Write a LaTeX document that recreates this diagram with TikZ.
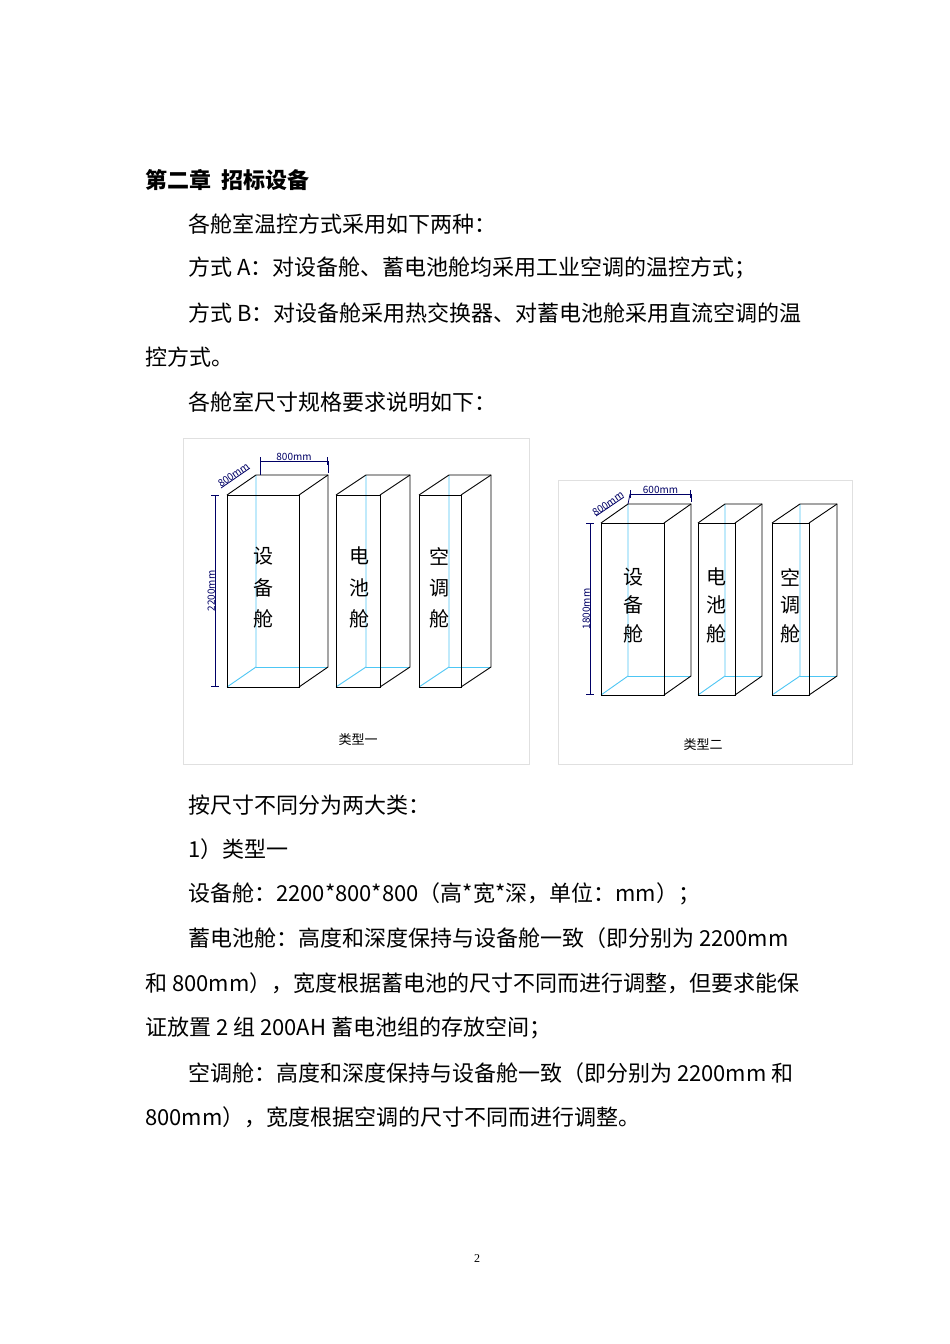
\documentclass[tikz,border=0pt]{standalone}
\usepackage{fontspec}
\setmainfont{Noto Sans CJK SC}
\newfontfamily\serifnum{Liberation Serif}
\newcommand{\mycab}[7]{%
 \coordinate (#1a) at (#2,#4); \coordinate (#1b) at (#3,#4);
 \coordinate (#1c) at (#3,#5); \coordinate (#1d) at (#2,#5);
 \draw[cyanl] (#1d) -- ++(#6,#7) coordinate (#1e) -- ++(0,#4-#5) coordinate (#1f);
 \draw[cyanl] (#1e) -- ++(#3-#2,0);
 \draw[boxl] (#1a) -- (#1b) -- (#1c) -- (#1d) -- cycle;
 \draw[boxl] (#1a) -- ++(#6,#7) -- ++(#3-#2,0) coordinate (#1g) -- ++(0,#5-#4) -- (#1c);
 \draw[boxl] (#1b) -- (#1g);
}
\begin{document}
\begin{tikzpicture}[x=1pt,y=-1pt,
 body/.style={anchor=west,inner sep=0,font=\fontsize{22}{22}\selectfont},
 boxl/.style={black,line width=0.9pt},
 cyanl/.style={cyan!70!white,line width=0.9pt},
 diml/.style={blue!40!black,line width=0.8pt},
 dimt/.style={blue!40!black,font=\fontsize{10}{10}\selectfont,inner sep=0.5pt},
 ch/.style={font=\fontsize{20}{20}\selectfont,inner sep=0},
 captext/.style={font=\fontsize{13}{13}\selectfont,inner sep=0},
 frame/.style={draw=black!12,line width=0.8pt}]
\useasboundingbox[fill=white] (0,0) rectangle (950,1344);
\node[body,font=\fontsize{22}{22}\selectfont\bfseries] (h) at (145,180) {第二章\ \ 招标设备};
\node[body] (l1) at (188,224) {各舱室温控方式采用如下两种：};
\node[body] (l2) at (188,268) {方式 A：对设备舱、蓄电池舱均采用工业空调的温控方式；};
\node[body] (l3) at (188,313) {方式 B：对设备舱采用热交换器、对蓄电池舱采用直流空调的温};
\node[body] (l4) at (145,357) {控方式。};
\node[body] (l5) at (188,402) {各舱室尺寸规格要求说明如下：};
% figure 1
\draw[frame] (183,438) rectangle (529,764);
\mycab{p}{227}{299}{495}{687}{29}{-20}
\mycab{q}{336}{380}{495}{687}{30}{-20}
\mycab{r}{419}{461}{495}{687}{30}{-20}
\node[ch] (p1) at (263,556) {设}; \node[ch] (p2) at (263,588) {备}; \node[ch] (p3) at (263,619) {舱};
\node[ch] (q1) at (359,556) {电}; \node[ch] (q2) at (359,588) {池}; \node[ch] (q3) at (359,619) {舱};
\node[ch] (r1) at (439,556) {空}; \node[ch] (r2) at (439,588) {调}; \node[ch] (r3) at (439,619) {舱};
\coordinate (d1a) at (260,461); \coordinate (d1b) at (328,461);
\draw[diml,|-|] (d1a) -- node[dimt,above=-1pt]{800mm} (d1b);
\draw[diml] (d1a) -- (260,475); \draw[diml] (d1b) -- (328,473);
\coordinate (d2a) at (215,495); \coordinate (d2b) at (215,687);
\draw[diml,|-|] (d2a) -- node[dimt,rotate=90,above=-1pt]{2200mm} (d2b);
\coordinate (d3a) at (221,488); \coordinate (d3b) at (250,468);
\draw[diml] (d3a) -- node[dimt,sloped,above=-1pt]{800mm} (d3b);
\node[captext] (c1) at (358,740) {类型一};
% figure 2
\draw[frame] (558,480) rectangle (852,764);
\mycab{s}{601}{664}{523}{695}{27}{-19}
\mycab{t}{698}{735}{523}{695}{27}{-19}
\mycab{u}{772}{809}{523}{695}{28}{-19}
\node[ch] (s1) at (633,577) {设}; \node[ch] (s2) at (633,605) {备}; \node[ch] (s3) at (633,634) {舱};
\node[ch] (t1) at (716,577) {电}; \node[ch] (t2) at (716,605) {池}; \node[ch] (t3) at (716,634) {舱};
\node[ch] (u1) at (790,577) {空}; \node[ch] (u2) at (790,605) {调}; \node[ch] (u3) at (790,634) {舱};
\coordinate (e1a) at (630,494); \coordinate (e1b) at (691,494);
\draw[diml,|-|] (e1a) -- node[dimt,above=-1pt]{600mm} (e1b);
\draw[diml] (e1a) -- (628,504); \draw[diml] (e1b) -- (691,502);
\coordinate (e2a) at (590,523); \coordinate (e2b) at (590,695);
\draw[diml,|-|] (e2a) -- node[dimt,rotate=90,above=-1pt]{1800mm} (e2b);
\coordinate (e3a) at (596,516); \coordinate (e3b) at (624,497);
\draw[diml] (e3a) -- node[dimt,sloped,above=-1pt]{800mm} (e3b);
\node[captext] (c2) at (703,745) {类型二};
% text below
\node[body] (m1) at (188,805) {按尺寸不同分为两大类：};
\node[body] (m2) at (188,849) {1）类型一};
\node[body] (m3) at (188,894) {设备舱：2200*800*800（高*宽*深，单位：mm）；};
\node[body] (m4) at (188,938) {蓄电池舱：高度和深度保持与设备舱一致（即分别为 2200mm};
\node[body] (m5) at (145,983) {和 800mm），宽度根据蓄电池的尺寸不同而进行调整，但要求能保};
\node[body] (m6) at (145,1028) {证放置 2 组 200AH 蓄电池组的存放空间；};
\node[body] (m7) at (188,1073) {空调舱：高度和深度保持与设备舱一致（即分别为 2200mm 和};
\node[body] (m8) at (145,1117) {800mm），宽度根据空调的尺寸不同而进行调整。};
\node[font=\serifnum\fontsize{12}{12}\selectfont] (pg) at (477,1259) {2};
\end{tikzpicture}
\end{document}
